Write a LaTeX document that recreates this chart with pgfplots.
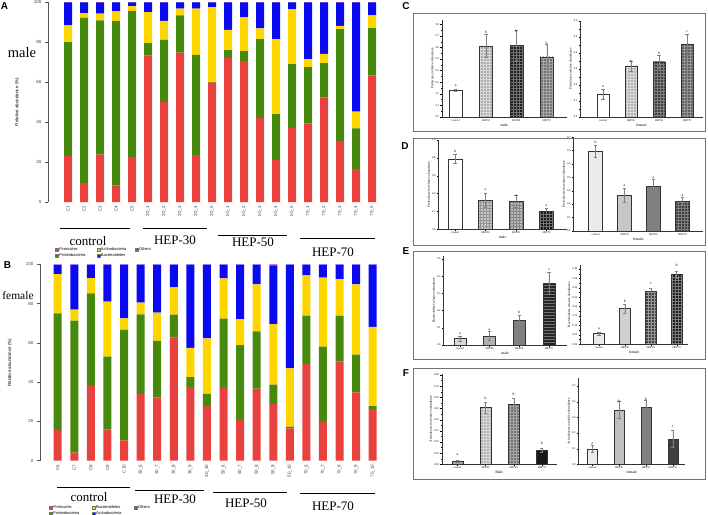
\documentclass[border=0pt]{standalone}
\usepackage{fontspec}
\setmainfont{Liberation Serif}
\setsansfont{Liberation Sans}
\usepackage{pgfplots}
\usepackage{pgfplotstable}
\pgfplotsset{compat=1.18}
\usetikzlibrary{patterns}

\definecolor{firm}{HTML}{E8413F}
\definecolor{prot}{HTML}{46890C}
\definecolor{acti}{HTML}{FFD500}
\definecolor{bact}{HTML}{0A0AF0}
\definecolor{othr}{HTML}{9A3BD6}
\definecolor{axgray}{HTML}{555555}

% male samples, stacked percentages (bottom to top)
\pgfplotstableread{
x R G Y B O
0 23.1 56.8 8.4 11.5 0.2
1 9.5 82.6 2.4 5.3 0.2
2 23.7 67.1 3.4 5.4 0.4
3 8.2 82.4 4.7 4.5 0.2
4 22.6 73.0 2.4 1.8 0.2
5 73.2 6.2 15.6 4.8 0.2
6 50.0 31.1 9.5 9.2 0.2
7 74.7 18.6 3.4 3.1 0.2
8 23.4 50.2 23.1 3.1 0.2
9 59.7 0.3 37.5 2.3 0.2
10 72.1 3.8 10.2 13.7 0.2
11 70.4 5.0 16.9 7.5 0.2
12 42.1 39.3 5.4 13.0 0.2
13 20.9 23.1 37.4 18.4 0.2
14 37.1 31.8 27.4 3.5 0.2
15 39.3 28.1 4.0 28.4 0.2
16 52.2 17.2 4.7 25.7 0.2
17 30.6 55.9 1.6 11.5 0.4
18 16.4 20.4 8.4 54.6 0.2
19 63.2 23.8 6.3 6.5 0.2
}\maleTab

% female samples
\pgfplotstableread{
x R G Y B O
0 15.6 59.4 20.0 4.6 0.4
1 4.1 67.2 5.6 22.9 0.2
2 38.0 47.2 7.8 6.8 0.2
3 16.0 37.0 28.0 18.8 0.2
4 10.4 56.2 5.9 27.3 0.2
5 34.0 40.5 6.0 19.3 0.2
6 32.3 28.7 14.4 24.4 0.2
7 62.8 11.6 13.9 11.5 0.2
8 37.5 5.1 14.8 42.4 0.2
9 27.8 6.2 28.3 37.5 0.2
10 37.5 34.8 20.6 6.9 0.2
11 20.7 38.2 13.1 27.8 0.2
12 36.7 29.2 23.9 10.0 0.2
13 28.9 9.8 30.9 29.9 0.5
14 16.5 0.8 29.7 52.8 0.2
15 49.2 24.7 20.5 5.4 0.2
16 20.2 37.9 35.1 6.6 0.2
17 50.4 23.3 18.7 7.4 0.2
18 34.8 19.2 35.8 10.0 0.2
19 26.3 1.5 40.3 31.7 0.2
}\femaleTab

\pgfplotsset{
  stk/.style={scale only axis, anchor=south west, ybar stacked, bar width=8pt,
    ymin=0, ymax=100, ytick={0,20,...,100}, xtick={0,...,19},
    axis lines*=left, x axis line style={draw=none}, xtick style={draw=none},
    y axis line style={axgray, line width=0.5pt}, ytick style={axgray, line width=0.5pt},
    tick align=outside, major tick length=3pt,
    /pgf/number format/assume math mode=true,
    ticklabel style={font=\sffamily\fontsize{4.5}{5}\selectfont, text=black!75},
    xticklabel style={rotate=90, anchor=east, inner sep=1pt},
    ylabel={Relative abundance (\%)},
    legend style={draw=none, fill=none, anchor=north west,
      font=\sffamily\fontsize{4}{4.6}\selectfont, nodes={inner sep=0.6pt},
      row sep=0.2pt},
    transpose legend, legend columns=2, legend cell align=left,
    legend image code/.code={\draw[##1, draw=black!55, line width=0.2pt] (0pt,-1.5pt) rectangle (3.3pt,1.5pt);},
  },
  sub/.style={scale only axis, anchor=south west, axis lines*=left, ymin=0,
    xtick={0,1,2,3}, xticklabels={control,HEP30,HEP50,HEP70},
    tick align=outside, major tick length=1.5pt, minor tick length=0.8pt, minor y tick num=1,
    tick style={black, line width=0.3pt},
    axis line style={line width=0.4pt, black!80},
    /pgf/number format/assume math mode=true,
    ticklabel style={font=\fontsize{2.8}{3}\selectfont, inner sep=1pt},
    yticklabel style={/pgf/number format/.cd, fixed, fixed zerofill, precision=1},
    every axis x label/.style={at={(ticklabel cs:0.5)}, anchor=near ticklabel, font=\fontsize{3.8}{4}\selectfont, inner sep=1pt},
    every axis y label/.style={at={(ticklabel cs:0.5)}, rotate=90, anchor=near ticklabel, font=\fontsize{3.4}{4}\selectfont, inner sep=1pt},
    every node near coord/.append style={anchor=center, font=\fontsize{3.8}{4}\selectfont},
  },
  eb/.style={ybar, bar width=#1, bar shift=0pt, draw=black!80, line width=0.3pt,
    error bars/y dir=both, error bars/y explicit,
    error bars/error bar style={line width=0.35pt, black!50},
    error bars/error mark options={rotate=90, mark size=1.6pt, line width=0.35pt, black!50}},
  lt/.style={draw=none, nodes near coords, point meta=explicit symbolic},
}

\begin{document}
\begin{tikzpicture}
\useasboundingbox (0pt,0pt) rectangle (708pt,-514pt);

% ---------- A: male ----------
\begin{axis}[stk, at={(48pt,-202pt)}, width=332pt, height=200pt,
  xmin=-1.25, xmax=19.5,
  xticklabels={C1,C2,C3,C4,C5,30\_1,30\_2,30\_3,30\_4,30\_5,50\_1,50\_2,50\_3,50\_4,50\_5,70\_1,70\_2,70\_3,70\_4,70\_5},
  every axis y label/.style={at={(axis description cs:-0.093,0.5)}, rotate=90, anchor=center, font=\sffamily\fontsize{4.5}{5}\selectfont},
  legend style={at={(axis description cs:0.012,-0.215)},
    /tikz/column 2/.style={column sep=11pt}, /tikz/column 4/.style={column sep=8pt}}]
\addplot[fill=firm, draw=none] table[x=x, y=R] {\maleTab};
\addplot[fill=prot, draw=none] table[x=x, y=G] {\maleTab};
\addplot[fill=acti, draw=none] table[x=x, y=Y] {\maleTab};
\addplot[fill=bact, draw=none] table[x=x, y=B] {\maleTab};
\addplot[fill=othr, draw=none] table[x=x, y=O] {\maleTab};
\legend{Firmicutes, Proteobacteria, Actinobacteria, Bacteroidetes, Others}
\end{axis}

% ---------- B: female ----------
\begin{axis}[stk, at={(40pt,-460.7pt)}, width=342pt, height=196.4pt,
  xmin=-1.07, xmax=19.56,
  xticklabels={C6,C7,C8,C9,C10,30\_6,30\_7,30\_8,30\_9,30\_10,50\_6,50\_7,50\_8,50\_9,50\_10,70\_6,70\_7,70\_8,70\_9,70\_10},
  every axis y label/.style={at={(axis description cs:-0.088,0.5)}, rotate=90, anchor=center, font=\sffamily\fontsize{4.5}{5}\selectfont},
  legend style={at={(axis description cs:0.0175,-0.215)},
    /tikz/column 2/.style={column sep=12pt}, /tikz/column 4/.style={column sep=12pt}}]
\addplot[fill=firm, draw=none] table[x=x, y=R] {\femaleTab};
\addplot[fill=prot, draw=none] table[x=x, y=G] {\femaleTab};
\addplot[fill=acti, draw=none] table[x=x, y=Y] {\femaleTab};
\addplot[fill=bact, draw=none] table[x=x, y=B] {\femaleTab};
\addplot[fill=othr, draw=none] table[x=x, y=O] {\femaleTab};
\legend{Firmicutes, Proteobacteria, Bacteroidetes, Actinobacteria, Others}
\end{axis}

% ---------- C ----------
\begin{axis}[sub, at={(441.7pt,-116.7pt)}, width=125pt, height=96.8pt,
  xmin=-0.46, xmax=3.66, ymax=0.84, ytick={0,0.1,...,0.8},
  xlabel={male}, ylabel={Firmicutes relative abundance}]
\addplot[fill=white, eb=13pt] coordinates {(0,0.231) +- (0,0.01)};
\addplot[fill=black!32, postaction={pattern=grid, pattern color=black!15}, eb=13pt] coordinates {(1,0.613) +- (0,0.1)};
\addplot[fill=black!88, postaction={pattern=grid, pattern color=black!55}, eb=13pt] coordinates {(2,0.621) +- (0,0.13)};
\addplot[fill=black!55, postaction={pattern=grid, pattern color=black!35}, eb=13pt] coordinates {(3,0.52) +- (0,0.11)};
\addplot[lt] coordinates {(0,0.27)[a] (1,0.73)[b] (2,0.745)[b] (3,0.64)[b]};
\end{axis}
\begin{axis}[sub, at={(580pt,-116.7pt)}, width=123pt, height=96pt,
  xmin=-0.82, xmax=3.57, ymax=0.6, ytick={0,0.1,...,0.6},
  xlabel={femael}, ylabel={Firmicutes relative abundance}]
\addplot[fill=white, eb=12pt] coordinates {(0,0.142) +- (0,0.03)};
\addplot[fill=black!30, postaction={pattern=grid, pattern color=black!15}, eb=12pt] coordinates {(1,0.317) +- (0,0.03)};
\addplot[fill=black!75, postaction={pattern=grid, pattern color=black!50}, eb=12pt] coordinates {(2,0.344) +- (0,0.04)};
\addplot[fill=black!62, postaction={pattern=grid, pattern color=black!42}, eb=12pt] coordinates {(3,0.452) +- (0,0.065)};
\addplot[lt] coordinates {(0,0.19)[a] (1,0.35)[b] (2,0.40)[b] (3,0.53)[c]};
\end{axis}

% ---------- D ----------
\begin{axis}[sub, at={(438.3pt,-229.3pt)}, width=128.4pt, height=89.3pt,
  xmin=-0.55, xmax=3.66, ymax=1.0, ytick={0,0.2,...,1.0},
  xlabel={male}, ylabel={Proteobacteria relative abundance}]
\addplot[fill=white, eb=14pt] coordinates {(0,0.787) +- (0,0.05)};
\addplot[fill=black!22, postaction={pattern=grid, pattern color=black!42}, eb=14pt] coordinates {(1,0.328) +- (0,0.075)};
\addplot[fill=black!28, postaction={pattern=grid, pattern color=black!48}, eb=14pt] coordinates {(2,0.313) +- (0,0.07)};
\addplot[fill=black!90, postaction={pattern=grid, pattern color=black!55}, eb=14pt] coordinates {(3,0.20) +- (0,0.035)};
\addplot[lt] coordinates {(0,0.877)[b] (1,0.44)[a] (2,0.377)[a] (3,0.265)[a]};
\end{axis}
\begin{axis}[sub, at={(573.3pt,-230.7pt)}, width=130pt, height=93.4pt,
  xmin=-0.77, xmax=3.72, ymax=0.7, ytick={0,0.1,...,0.7},
  xlabel={female}, ylabel={Proteobacteria relative abundance}]
\addplot[fill=black!8, eb=14pt] coordinates {(0,0.595) +- (0,0.045)};
\addplot[fill=black!22, eb=14pt] coordinates {(1,0.267) +- (0,0.055)};
\addplot[fill=black!50, eb=14pt] coordinates {(2,0.337) +- (0,0.05)};
\addplot[fill=black!75, postaction={pattern=grid, pattern color=black!50}, eb=14pt] coordinates {(3,0.22) +- (0,0.03)};
\addplot[lt] coordinates {(0,0.66)[b] (1,0.335)[a] (2,0.40)[a] (3,0.26)[a]};
\end{axis}

% ---------- E ----------
\begin{axis}[sub, at={(443.3pt,-345pt)}, width=123.4pt, height=89.4pt,
  xmin=-0.56, xmax=3.6, ymax=0.52, ytick={0,0.1,...,0.5},
  xlabel={male}, ylabel={Bacteroidetes relative abundance}]
\addplot[fill=black!15, eb=12pt] coordinates {(0,0.039) +- (0,0.015)};
\addplot[fill=black!30, eb=12pt] coordinates {(1,0.054) +- (0,0.025)};
\addplot[fill=black!50, eb=12pt] coordinates {(2,0.145) +- (0,0.03)};
\addplot[fill=black!85, postaction={pattern=horizontal lines, pattern color=black!55}, eb=12pt] coordinates {(3,0.358) +- (0,0.065)};
\addplot[lt] coordinates {(0,0.064)[a] (1,0.09)[a] (2,0.19)[b] (3,0.436)[c]};
\end{axis}
\begin{axis}[sub, at={(580pt,-344.3pt)}, width=108.3pt, height=79.1pt,
  xmin=-0.73, xmax=3.45, ymax=0.42, ytick={0,0.05,...,0.4},
  yticklabel style={/pgf/number format/precision=2},
  xlabel={female}, ylabel={Bacteroidetes relative abundance}]
\addplot[fill=black!8, eb=11pt] coordinates {(0,0.057) +- (0,0.01)};
\addplot[fill=black!18, eb=11pt] coordinates {(1,0.19) +- (0,0.025)};
\addplot[fill=black!75, postaction={pattern=grid, pattern color=black!40}, eb=11pt] coordinates {(2,0.28) +- (0,0.02)};
\addplot[fill=black!90, postaction={pattern=grid, pattern color=black!50}, eb=11pt] coordinates {(3,0.37) +- (0,0.02)};
\addplot[lt] coordinates {(0,0.085)[a] (1,0.227)[b] (2,0.32)[c] (3,0.418)[d]};
\end{axis}

% ---------- F ----------
\begin{axis}[sub, at={(441.7pt,-464.3pt)}, width=115pt, height=90.4pt,
  xmin=-0.56, xmax=3.53, ymax=0.405, ytick={0,0.05,...,0.4},
  yticklabel style={/pgf/number format/precision=2},
  xlabel={Male}, ylabel={Actinobacteria relative abundance}]
\addplot[fill=black!35, eb=11pt] coordinates {(0,0.015) +- (0,0.005)};
\addplot[fill=black!30, postaction={pattern=grid, pattern color=black!15}, eb=11pt] coordinates {(1,0.255) +- (0,0.025)};
\addplot[fill=black!55, postaction={pattern=grid, pattern color=black!35}, eb=11pt] coordinates {(2,0.27) +- (0,0.025)};
\addplot[fill=black!90, eb=11pt] coordinates {(3,0.064) +- (0,0.01)};
\addplot[lt] coordinates {(0,0.045)[a] (1,0.295)[b] (2,0.313)[b] (3,0.094)[b]};
\end{axis}
\begin{axis}[sub, at={(578.3pt,-464.3pt)}, width=106.7pt, height=86.1pt,
  xmin=-0.52, xmax=3.46, ymax=0.55, ytick={0,0.1,...,0.5},
  xlabel={female}, ylabel={Actinobacteria relative abundance}]
\addplot[fill=black!8, eb=10pt] coordinates {(0,0.10) +- (0,0.02)};
\addplot[fill=black!25, eb=10pt] coordinates {(1,0.349) +- (0,0.055)};
\addplot[fill=black!50, eb=10pt] coordinates {(2,0.366) +- (0,0.045)};
\addplot[fill=black!75, eb=10pt] coordinates {(3,0.162) +- (0,0.055)};
\addplot[lt] coordinates {(0,0.134)[a] (1,0.404)[b] (2,0.417)[b] (3,0.24)[c]};
\end{axis}

% panel frames on the right
\draw[black!55, line width=0.7pt] (413pt,-13pt) rectangle (705pt,-131pt);
\draw[black!55, line width=0.7pt] (413pt,-138pt) rectangle (705pt,-245pt);
\draw[black!55, line width=0.7pt] (413pt,-251pt) rectangle (705pt,-359pt);
\draw[black!55, line width=0.7pt] (413pt,-368pt) rectangle (705pt,-479pt);

% panel letters
\begin{scope}[every node/.style={font=\sffamily\bfseries\fontsize{10}{12}\selectfont, inner sep=0pt}]
\node at (4.5pt,-6.5pt) {A};
\node at (7.5pt,-265pt) {B};
\node at (406pt,-6pt) {C};
\node at (405pt,-146pt) {D};
\node at (406pt,-251pt) {E};
\node at (406pt,-373pt) {F};
\end{scope}

% sex labels and group labels
\node[font=\fontsize{14.5}{15}\selectfont, inner sep=0pt] at (22pt,-52.5pt) {male};
\node[font=\fontsize{11.5}{12}\selectfont, inner sep=0pt] at (18pt,-295.5pt) {female};
\begin{scope}[every node/.style={font=\fontsize{13}{14}\selectfont, inner sep=0pt}]
\node at (88pt,-241pt) {control};
\node at (175pt,-240pt) {HEP-30};
\node at (253pt,-242pt) {HEP-50};
\node at (333pt,-252pt) {HEP-70};
\node at (89pt,-497pt) {control};
\node at (175pt,-499pt) {HEP-30};
\node at (246pt,-503pt) {HEP-50};
\node at (333pt,-506pt) {HEP-70};
\end{scope}
\begin{scope}[line width=0.8pt]
\draw (60pt,-228pt) -- (130pt,-228pt);
\draw (143pt,-228pt) -- (207pt,-228pt);
\draw (218pt,-235pt) -- (287pt,-235pt);
\draw (300pt,-238pt) -- (375pt,-238pt);
\draw (57pt,-487.3pt) -- (130pt,-487.3pt);
\draw (135pt,-490.7pt) -- (204pt,-490.7pt);
\draw (213pt,-492.3pt) -- (287pt,-492.3pt);
\draw (300pt,-493.3pt) -- (375pt,-493.3pt);
\end{scope}
\end{tikzpicture}
\end{document}
